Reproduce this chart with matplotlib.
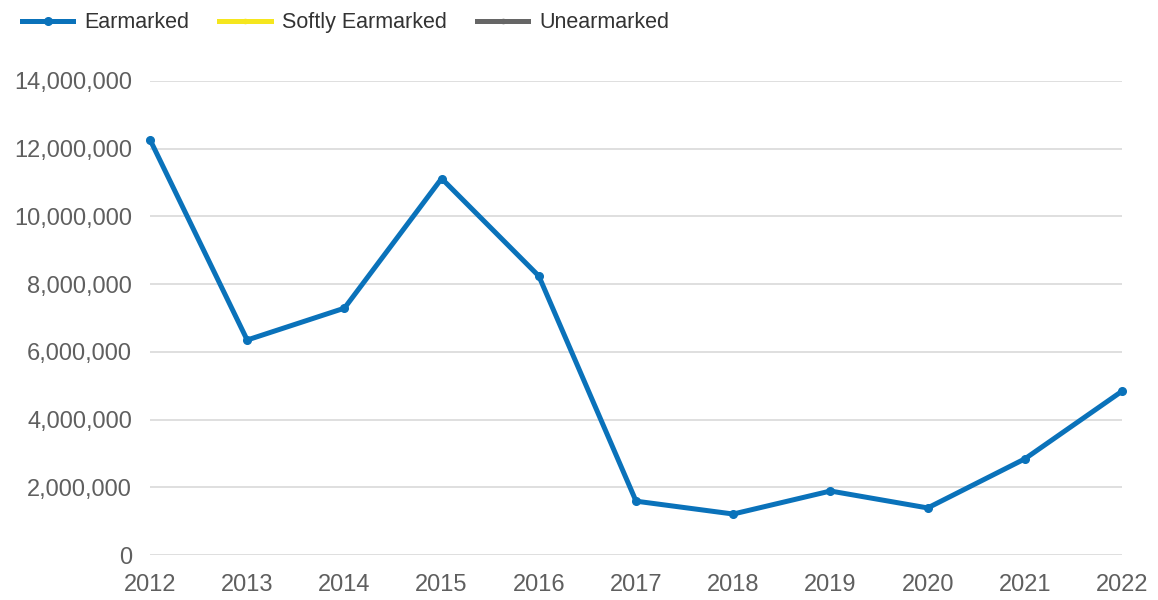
import matplotlib.pyplot as plt
from matplotlib.ticker import FuncFormatter

plt.rcParams['font.family'] = ['Liberation Sans', 'DejaVu Sans']

# данные
years = [2012, 2013, 2014, 2015, 2016, 2017, 2018, 2019, 2020, 2021, 2022]
earmarked = [12270000, 6350000, 7290000, 11120000, 8240000, 1590000,
             1210000, 1890000, 1390000, 2840000, 4840000]
softly_earmarked = []
unearmarked = []

fig = plt.figure(figsize=(11.58, 6), dpi=100)
ax = fig.add_axes([0.1295, 0.075, 0.8395, 0.79])

ax.plot(years, earmarked, color='#0a72ba', lw=3.6, marker='o', ms=5.5,
        label='Earmarked', clip_on=False, zorder=3)
ax.plot(years[:len(softly_earmarked)], softly_earmarked, color='#f5e61e', lw=3.6,
        marker='o', ms=3, label='Softly Earmarked')
ax.plot(years[:len(unearmarked)], unearmarked, color='#666666', lw=3.6,
        marker='o', ms=3, label='Unearmarked')

ax.set_xlim(2012, 2022)
ax.set_ylim(0, 14000000)
ax.set_xticks(years)
ax.set_yticks(range(0, 14000001, 2000000))
ax.yaxis.set_major_formatter(FuncFormatter(lambda v, p: f'{int(v):,}'))

ax.grid(axis='y', color='#d9d9d9', lw=1.2)
ax.set_axisbelow(True)
for s in ax.spines.values():
    s.set_visible(False)
ax.tick_params(length=0, labelsize=17, labelcolor='#5f5f5f')
ax.tick_params(axis='y', pad=13)
ax.tick_params(axis='x', pad=14)

fig.legend(loc='upper left', bbox_to_anchor=(0.002, 1.012), ncol=3, frameon=False,
           fontsize=15.5, handlelength=2.4, columnspacing=1.4, handletextpad=0.5,
           labelcolor='#333333')

fig.savefig('out.png', dpi=100)
